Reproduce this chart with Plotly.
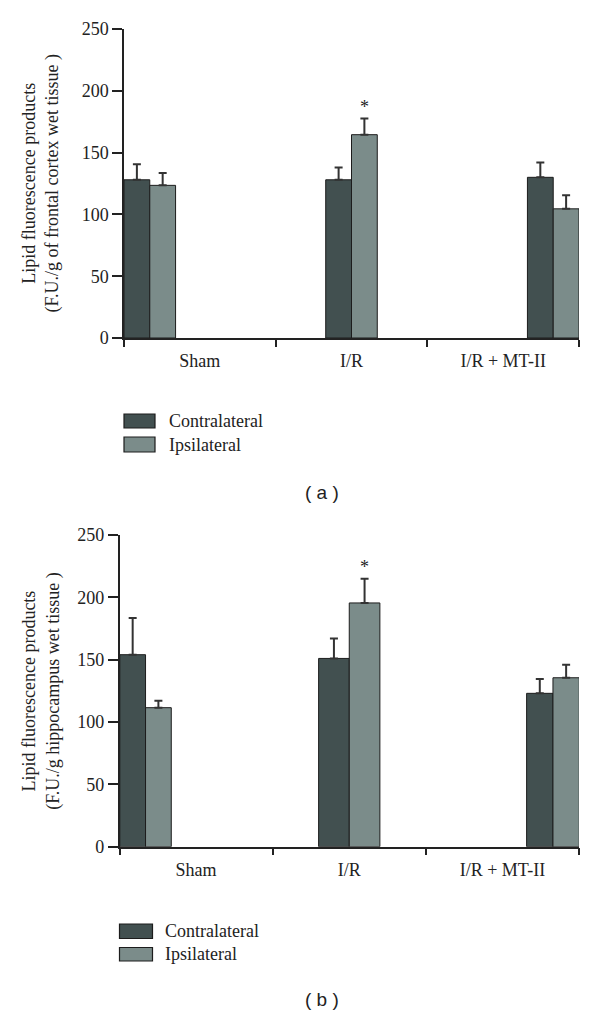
import plotly.graph_objects as go

# ---------------- data ----------------
categories = ["Sham", "I/R", "I/R + MT-II"]
series_names = ["Contralateral", "Ipsilateral"]

# Panel (a): frontal cortex
a_contra = [128, 128, 130]
a_contra_err = [12.5, 10, 12]
a_ipsi = [123.5, 164.5, 104.5]
a_ipsi_err = [10, 13, 11]
a_sig_ipsi = [False, True, False]

# Panel (b): hippocampus
b_contra = [154, 151, 123]
b_contra_err = [29.5, 16, 11.5]
b_ipsi = [111.5, 195.5, 135.5]
b_ipsi_err = [5.5, 19.5, 10.5]
b_sig_ipsi = [False, True, False]

y_ticks = [0, 50, 100, 150, 200, 250]
ytitle_a = "Lipid fluorescence products<br>(F.U./g of frontal cortex wet tissue )"
ytitle_b = "Lipid fluorescence products<br>(F.U./g hippocampus wet tissue )"
panel_labels = ["( a )", "( b )"]

# ---------------- style / layout ----------------
PAGE_PAD = 8                     # default body margin of the html page
W, H = 600 - 2 * PAGE_PAD, 1016 - PAGE_PAD
C_CONTRA = "#425050"
C_IPSI = "#7b8c8a"
EDGE = "#1c1c1c"
TXT = "#222222"
SERIF = "Liberation Serif, Times New Roman, serif"
SANS = "Liberation Sans, Arial, sans-serif"

group_pos = [0.17, 1.5, 2.83]
width_a = [0.17, 0.17, 0.17]
width_b = [0.168, 0.2, 0.172]


def px(x):
    return (x - PAGE_PAD) / W


def py(y):
    return 1 - (y - PAGE_PAD) / H


fig = go.Figure()

panels = [
    dict(xa="x", ya="y", contra=a_contra, ce=a_contra_err, ipsi=a_ipsi, ie=a_ipsi_err,
         sig=a_sig_ipsi, w=width_a),
    dict(xa="x2", ya="y2", contra=b_contra, ce=b_contra_err, ipsi=b_ipsi, ie=b_ipsi_err,
         sig=b_sig_ipsi, w=width_b),
]

for p in panels:
    w = p["w"]
    fig.add_trace(go.Bar(
        x=group_pos, y=p["contra"], width=w, offset=[-v for v in w],
        name=series_names[0], marker=dict(color=C_CONTRA, line=dict(color=EDGE, width=1)),
        error_y=dict(type="data", array=p["ce"], arrayminus=[0] * 3, symmetric=False,
                     color="#333333", thickness=2, width=4),
        xaxis=p["xa"], yaxis=p["ya"], showlegend=False))
    fig.add_trace(go.Bar(
        x=group_pos, y=p["ipsi"], width=w, offset=[0] * 3,
        name=series_names[1], marker=dict(color=C_IPSI, line=dict(color=EDGE, width=1)),
        error_y=dict(type="data", array=p["ie"], arrayminus=[0] * 3, symmetric=False,
                     color="#333333", thickness=2, width=4),
        xaxis=p["xa"], yaxis=p["ya"], showlegend=False))
    for i, s in enumerate(p["sig"]):
        if s:
            fig.add_annotation(x=group_pos[i] + w[i] / 2, y=p["ipsi"][i] + p["ie"][i],
                               xref=p["xa"], yref=p["ya"], text="*", showarrow=False,
                               yanchor="bottom", yshift=0,
                               font=dict(family=SERIF, size=18, color=TXT))

axis_common = dict(showline=True, linecolor=TXT, linewidth=1.5, showgrid=False,
                   zeroline=False, automargin=False)

xaxis_common = dict(axis_common, range=[0, 3], tickmode="array", tickvals=[0.5, 1.5, 2.5],
                    ticktext=categories, ticks="", ticklabelstandoff=6,
                    tickfont=dict(family=SERIF, size=18, color=TXT),
                    minor=dict(tickmode="array", tickvals=[0, 1, 2, 3], ticks="outside",
                               ticklen=7, tickwidth=1.5, tickcolor=TXT))
yaxis_common = dict(axis_common, range=[0, 250], tickmode="array", tickvals=y_ticks,
                    ticks="outside", ticklen=10, tickwidth=1.5, tickcolor=TXT,
                    tickfont=dict(family=SERIF, size=18, color=TXT))

fig.update_layout(
    width=W, height=H, margin=dict(l=0, r=0, t=0, b=0, autoexpand=False),
    paper_bgcolor="white", plot_bgcolor="white", barmode="overlay", showlegend=False,
    xaxis=dict(xaxis_common, domain=[px(124), px(579)], anchor="y"),
    yaxis=dict(yaxis_common, domain=[py(338), py(29)], anchor="x"),
    xaxis2=dict(xaxis_common, domain=[px(119.5), px(579)], anchor="y2"),
    yaxis2=dict(yaxis_common, domain=[py(846.7), py(535)], anchor="x2"),
)

# y-axis titles
for title, (top, bot) in zip([ytitle_a, ytitle_b], [(29, 338), (535, 846.7)]):
    fig.add_annotation(x=px(41), y=py((top + bot) / 2), xref="paper", yref="paper",
                       text=title, textangle=-90, showarrow=False,
                       xanchor="center", yanchor="middle",
                       font=dict(family=SERIF, size=18, color=TXT))

# legends (manually drawn swatches)
legend_specs = [
    dict(x0=124, x1=155, rows=[(414, 428), (437, 452)], tx=167),
    dict(x0=119.5, x1=152.5, rows=[(924, 938.5), (947.5, 961)], tx=163),
]
for spec in legend_specs:
    for (y0, y1), col, name in zip(spec["rows"], [C_CONTRA, C_IPSI], series_names):
        fig.add_shape(type="rect", xref="paper", yref="paper",
                      x0=px(spec["x0"]), x1=px(spec["x1"]), y0=py(y1), y1=py(y0),
                      fillcolor=col, line=dict(color=EDGE, width=1.2))
        fig.add_annotation(x=px(spec["tx"]), y=py((y0 + y1) / 2), xref="paper", yref="paper",
                           text=name, showarrow=False, xanchor="left", yanchor="middle",
                           font=dict(family=SERIF, size=18, color=TXT))

# panel labels
for lab, yy in zip(panel_labels, [492, 999]):
    fig.add_annotation(x=px(322), y=py(yy), xref="paper", yref="paper", text=lab,
                       showarrow=False, xanchor="center", yanchor="middle",
                       font=dict(family=SANS, size=19, color=TXT))

fig.write_html("out.html")
